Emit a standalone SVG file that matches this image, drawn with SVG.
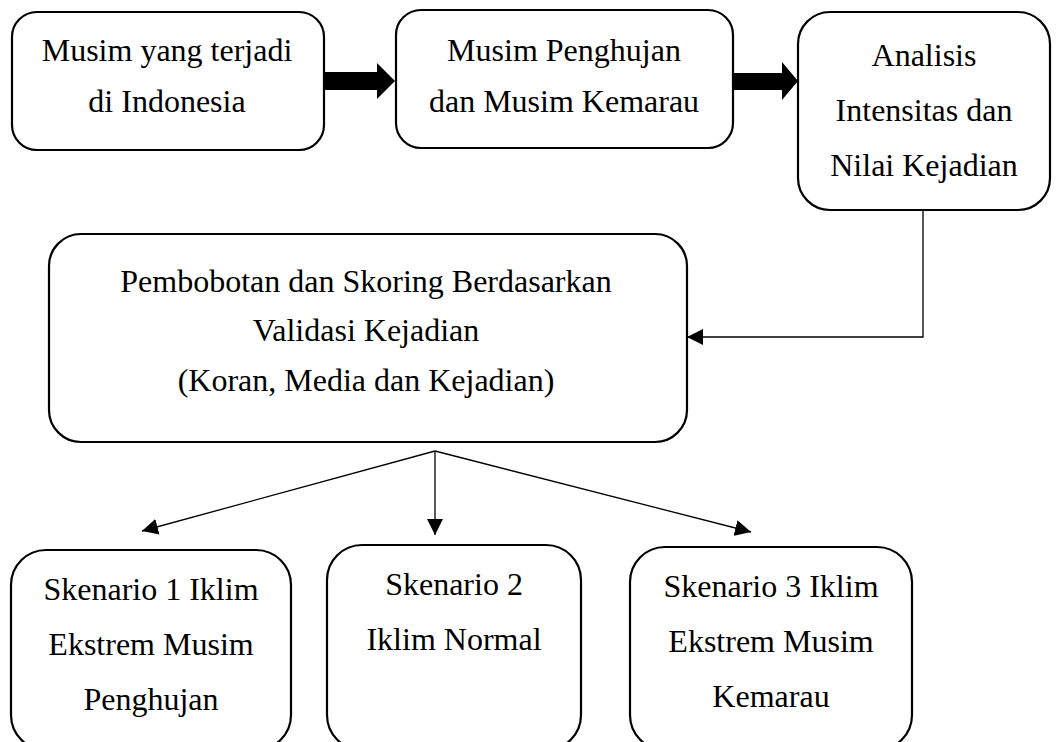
<svg xmlns="http://www.w3.org/2000/svg" width="1060" height="742" viewBox="0 0 1060 742">
<style>
.box{fill:#fff;stroke:#000;stroke-width:2.2}
.t{font-family:"Liberation Serif","Times New Roman",serif;font-size:32px;fill:#000;text-anchor:middle}
.ln{fill:none;stroke:#000;stroke-width:1.3}
.thick{fill:#000;stroke:none}
</style>
<defs>
<marker id="ah" markerUnits="userSpaceOnUse" markerWidth="16" markerHeight="16" viewBox="0 0 16 16" refX="16" refY="8" orient="auto">
<path d="M0,0 L16,8 L0,16 z" fill="#000"/>
</marker>
</defs>
<rect width="1060" height="742" fill="#fff"/>
<g id="connectors">
<polygon class="thick" points="324,72 377,72 377,63 395,81 377,99 377,90 324,90"/>
<polygon class="thick" points="734,73 782,73 782,62 798,81 782,100 782,90 734,90"/>
<polyline class="ln" points="923,210 923,337 687,337" marker-end="url(#ah)"/>
<line class="ln" x1="435" y1="451" x2="142" y2="531" marker-end="url(#ah)"/>
<line class="ln" x1="435" y1="451" x2="435" y2="535" marker-end="url(#ah)"/>
<line class="ln" x1="435" y1="451" x2="751" y2="532" marker-end="url(#ah)"/>
</g>
<g id="n1">
<rect class="box" x="12" y="12" width="312" height="138" rx="25"/>
<text class="t" x="167" y="61">Musim yang terjadi</text>
<text class="t" x="167" y="112">di Indonesia</text>
</g>
<g id="n2">
<rect class="box" x="396" y="10" width="337" height="138" rx="25"/>
<text class="t" x="564" y="61">Musim Penghujan</text>
<text class="t" x="564" y="112">dan Musim Kemarau</text>
</g>
<g id="n3">
<rect class="box" x="798" y="12" width="252" height="198" rx="32"/>
<text class="t" x="924" y="66">Analisis</text>
<text class="t" x="924" y="121">Intensitas dan</text>
<text class="t" x="924" y="176">Nilai Kejadian</text>
</g>
<g id="n4">
<rect class="box" x="49" y="234" width="638" height="208" rx="32"/>
<text class="t" x="366" y="292">Pembobotan dan Skoring Berdasarkan</text>
<text class="t" x="366" y="341">Validasi Kejadian</text>
<text class="t" x="366" y="391">(Koran, Media dan Kejadian)</text>
</g>
<g id="n5">
<rect class="box" x="11" y="550" width="280" height="200" rx="35"/>
<text class="t" x="151" y="600">Skenario 1 Iklim</text>
<text class="t" x="151" y="655">Ekstrem Musim</text>
<text class="t" x="151" y="710">Penghujan</text>
</g>
<g id="n6">
<rect class="box" x="327" y="545" width="254" height="205" rx="35"/>
<text class="t" x="454" y="595">Skenario 2</text>
<text class="t" x="454" y="650">Iklim Normal</text>
</g>
<g id="n7">
<rect class="box" x="630" y="547" width="282" height="203" rx="35"/>
<text class="t" x="771" y="597">Skenario 3 Iklim</text>
<text class="t" x="771" y="652">Ekstrem Musim</text>
<text class="t" x="771" y="707">Kemarau</text>
</g>
</svg>
